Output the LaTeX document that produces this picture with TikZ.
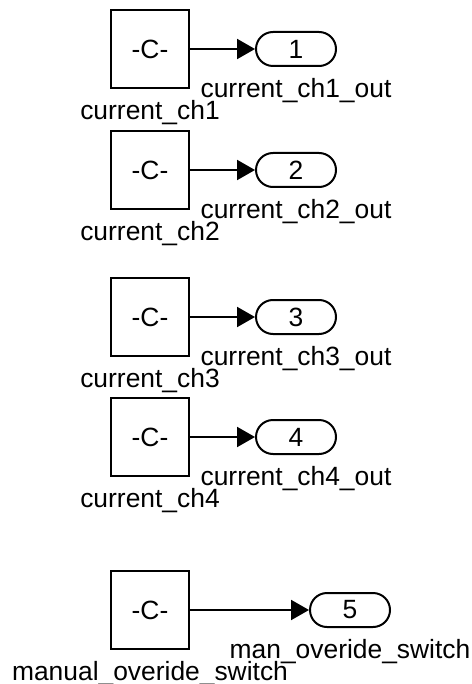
\documentclass[tikz,border=0pt]{standalone}
\usepackage{fontspec}
\setmainfont{Liberation Sans}
\usetikzlibrary{shapes.misc, positioning, arrows.meta}

\begin{document}
\begin{tikzpicture}[
        x=0.5pt, y=-0.5pt,
        >={Triangle[length=9pt, width=10pt]}, % Arrowhead style
        every node/.style={font=\fontsize{13.2}{15}\selectfont},
        const/.style={rectangle, draw, line width=1pt, minimum size=39pt},
        outport/.style={rounded rectangle, draw, line width=1pt, minimum width=40pt, minimum height=17pt, inner sep=0pt},
        tag/.style={inner sep=0pt, text height=9.5pt, text depth=3pt},
        wire/.style={->, line width=1pt}
    ]
    \useasboundingbox (0,0) rectangle (471,684);

    % ==========================================
    % Constant blocks
    % ==========================================
    \node[const] (C1) at (150, 49) {-C-};
    \node[const] (C2) at (150, 170) {-C-};
    \node[const] (C3) at (150, 317) {-C-};
    \node[const] (C4) at (150, 437) {-C-};
    \node[const] (C5) at (150, 610) {-C-};

    % ==========================================
    % Outports
    % ==========================================
    \node[outport] (O1) at (296, 49) {1};
    \node[outport] (O2) at (296, 170) {2};
    \node[outport] (O3) at (296, 317) {3};
    \node[outport] (O4) at (296, 437) {4};
    \node[outport] (O5) at (350, 610) {5};

    % ==========================================
    % Block names
    % ==========================================
    \node[tag, below=5.5pt of C1] (C1name) {current\_ch1};
    \node[tag, below=5.5pt of C2] (C2name) {current\_ch2};
    \node[tag, below=5.5pt of C3] (C3name) {current\_ch3};
    \node[tag, below=5.5pt of C4] (C4name) {current\_ch4};
    \node[tag, below=5.5pt of C5] (C5name) {manual\_overide\_switch};

    \node[tag, below=5.5pt of O1] (O1name) {current\_ch1\_out};
    \node[tag, below=5.5pt of O2] (O2name) {current\_ch2\_out};
    \node[tag, below=5.5pt of O3] (O3name) {current\_ch3\_out};
    \node[tag, below=5.5pt of O4] (O4name) {current\_ch4\_out};
    \node[tag, below=5.5pt of O5] (O5name) {man\_overide\_switch};

    % ==========================================
    % Signal lines
    % ==========================================
    \draw[wire] (C1) -- (O1);
    \draw[wire] (C2) -- (O2);
    \draw[wire] (C3) -- (O3);
    \draw[wire] (C4) -- (O4);
    \draw[wire] (C5) -- (O5);

\end{tikzpicture}
\end{document}
